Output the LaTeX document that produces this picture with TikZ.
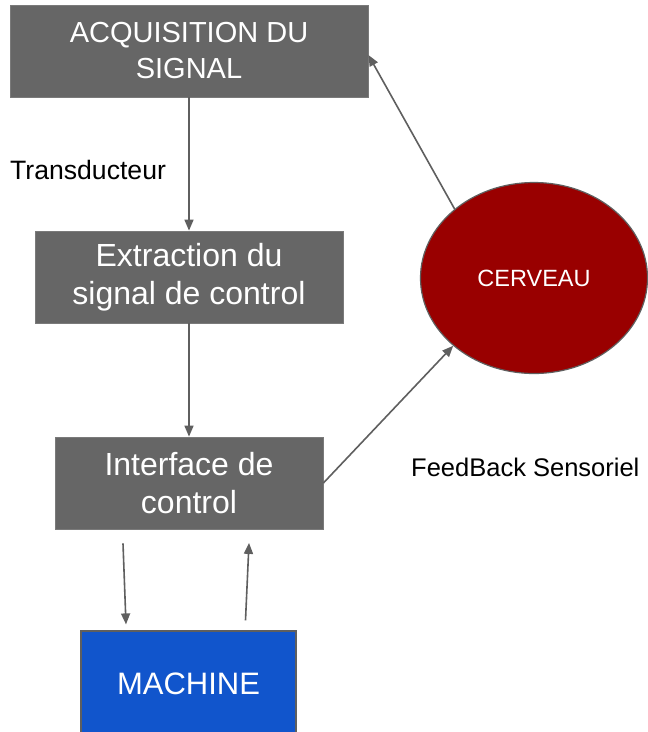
\documentclass[tikz,border=0pt]{standalone}
\usepackage{fontspec}
\setmainfont{Liberation Sans}
\usetikzlibrary{shapes.geometric,arrows.meta}
\definecolor{boxgray}{HTML}{666666}
\definecolor{boxedge}{HTML}{7A7A7A}
\definecolor{linegray}{HTML}{5F5F5F}
\definecolor{brainred}{HTML}{990000}
\definecolor{machblue}{HTML}{1155CC}
\tikzset{
  graybox/.style={rectangle, fill=boxgray, draw=boxedge, line width=0.8pt, text=white,
    align=center, inner sep=0pt, font=\fontsize{29}{36}\selectfont},
  bigbox/.style={graybox, font=\fontsize{32}{38}\selectfont},
  conn/.style={draw=linegray, line width=1.6pt,
    -{Triangle[width=9pt,length=11pt]}, shorten >=0pt},
  lbl/.style={anchor=base west, inner sep=0pt, text=black, font=\fontsize{25.5}{30}\selectfont}
}
\begin{document}
\begin{tikzpicture}[x=1pt,y=-1pt]
\useasboundingbox (0,0) rectangle (648,732);
\fill[white] (0,0) rectangle (648,732);

\node[graybox, minimum width=358pt, minimum height=92pt] (acq) at (189,51) {ACQUISITION DU\\SIGNAL};
\node[bigbox, minimum width=308pt, minimum height=92pt] (ext) at (189,277) {Extraction du\\signal de control};
\node[bigbox, minimum width=268pt, minimum height=92pt] (int) at (189,483) {Interface de\\control};
\node[rectangle, fill=machblue, draw=linegray, line width=1.2pt, text=white, inner sep=0pt,
  minimum width=215pt, minimum height=110pt, font=\fontsize{31}{36}\selectfont] (mach) at (188.5,686) {};
\node[text=white, inner sep=0pt, font=\fontsize{31}{36}\selectfont] (machtxt) at (188.5,684) {MACHINE};
\node[ellipse, fill=brainred, draw=linegray, line width=1.2pt, minimum width=227pt, minimum height=191pt,
  inner sep=0pt, text=white, font=\fontsize{23.5}{28}\selectfont] (cer) at (534,278) {CERVEAU};

\node[lbl, font=\fontsize{26.6}{30}\selectfont] (trans) at (10,179) {Transducteur};
\node[lbl] (feed) at (411,476) {FeedBack Sensoriel};

\coordinate (d1) at ([xshift=-66pt,yshift=-14pt]int.south);
\coordinate (d2) at ([xshift=-62.5pt,yshift=6pt]mach.north);
\coordinate (u1) at ([xshift=57pt,yshift=10pt]mach.north);
\coordinate (u2) at ([xshift=60pt,yshift=-13.5pt]int.south);
\coordinate (aq) at ([yshift=-4pt]acq.east);

\draw[conn] (acq.south) -- (ext.north);
\draw[conn] (ext.south) -- (int.north);
\draw[conn] (d1) -- (d2);
\draw[conn] (u1) -- (u2);
\draw[conn] (int.east) -- (cer.220);
\draw[conn] (cer.139) -- (aq);
\end{tikzpicture}
\end{document}
